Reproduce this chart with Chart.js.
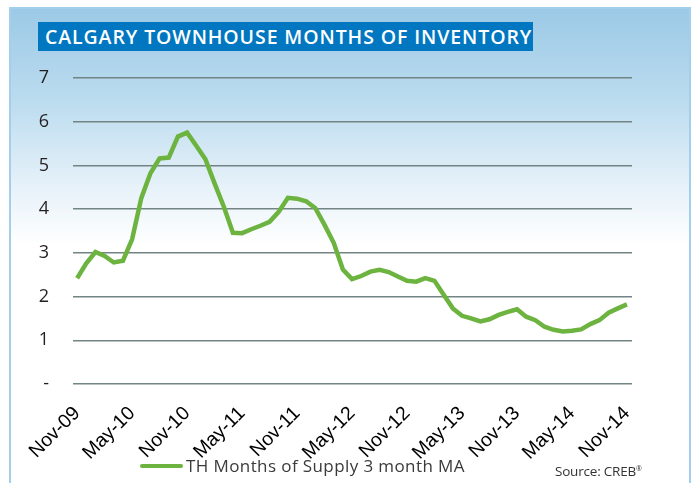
<!DOCTYPE html>
<html>
<head>
<meta charset="utf-8">
<script src="https://cdn.jsdelivr.net/npm/chart.js@4/dist/chart.umd.min.js"></script>
<style>
  html, body { margin: 0; padding: 0; background: #fff; }
  .wrap { position: relative; width: 693px; height: 483px; overflow: hidden; }
  canvas { position: absolute; left: 0; top: 0; }
  .title {
    position: absolute; left: 38px; top: 22px; width: 495px; height: 29px;
    background: #0077c0; color: #fff;
    font: 600 19.5px "Open Sans", sans-serif; letter-spacing: 0.9px;
    line-height: 29px; padding-left: 7px; box-sizing: border-box; white-space: nowrap;
  }
  .legend {
    position: absolute; left: 140px; top: 454px; height: 22px;
    font: 17px "Open Sans", sans-serif; color: #3a3a3a; white-space: nowrap; letter-spacing: 0.4px;
  }
  .legend i {
    display: inline-block; width: 43px; height: 4px; border-radius: 2px;
    background: #6cb33f; vertical-align: middle; margin-right: 3px; position: relative; top: -1px;
  }
  .source {
    position: absolute; left: 555px; top: 462px;
    font: 13.5px "Open Sans", sans-serif; color: #333; white-space: nowrap; letter-spacing: -0.2px;
  }
  .source sup { font-size: 7px; }
</style>
</head>
<body>
<div class="wrap">
  <canvas id="chart" width="693" height="483"></canvas>
  <div class="title">CALGARY TOWNHOUSE MONTHS OF INVENTORY</div>
  <div class="legend"><i></i>TH Months of Supply 3 month MA</div>
  <div class="source">Source: CREB<sup>®</sup></div>
</div>
<script>
// every 6th month is labelled on the x axis
const tickLabels = ['Nov-09', 'May-10', 'Nov-10', 'May-11', 'Nov-11', 'May-12',
                    'Nov-12', 'May-13', 'Nov-13', 'May-14', 'Nov-14'];
const yTicks = [0, 1, 2, 3, 4, 5, 6, 7];

// monthly values, Nov-09 .. Nov-14
const supplyMA = [
  2.42, 2.76, 3.02, 2.93, 2.78, 2.82, 3.31, 4.25, 4.82, 5.16, 5.18, 5.66,
  5.75, 5.45, 5.14, 4.59, 4.06, 3.46, 3.45, 3.54, 3.62, 3.71, 3.94, 4.26,
  4.24, 4.18, 4.02, 3.64, 3.23, 2.62, 2.40, 2.47, 2.57, 2.61, 2.56, 2.46,
  2.36, 2.34, 2.42, 2.36, 2.04, 1.73, 1.56, 1.50, 1.43, 1.48, 1.58, 1.65,
  1.71, 1.54, 1.46, 1.31, 1.24, 1.20, 1.22, 1.25, 1.37, 1.46, 1.63, 1.73,
  1.82
];

const points = supplyMA.map((v, i) => ({ x: i, y: v }));

// light blue panel fading to white behind the chart
const panel = {
  id: 'panel',
  beforeDraw(chart) {
    const ctx = chart.ctx;
    ctx.save();
    const g = ctx.createLinearGradient(0, 7, 0, 245);
    g.addColorStop(0, '#9bc9e6');
    g.addColorStop(0.4, '#bcdcef');
    g.addColorStop(0.75, '#e6f1f9');
    g.addColorStop(1, '#ffffff');
    ctx.fillStyle = g;
    ctx.fillRect(9, 7, 682, 480);
    ctx.strokeStyle = '#a3cfec';
    ctx.lineWidth = 2;
    ctx.beginPath();
    ctx.moveTo(10, 490); ctx.lineTo(10, 8); ctx.lineTo(690, 8); ctx.lineTo(690, 490);
    ctx.stroke();
    ctx.restore();
  }
};

new Chart(document.getElementById('chart'), {
  type: 'line',
  data: {
    datasets: [{
      label: 'TH Months of Supply 3 month MA',
      data: points,
      borderColor: '#6cb33f',
      borderWidth: 4.5,
      pointRadius: 0,
      tension: 0,
      fill: false
    }]
  },
  options: {
    responsive: false,
    animation: false,
    layout: { padding: { left: 0, right: 61, top: 78, bottom: 0 } },
    plugins: { legend: { display: false }, tooltip: { enabled: false } },
    scales: {
      x: {
        type: 'linear',
        min: -0.45,
        max: 60.55,
        afterBuildTicks: (s) => { s.ticks = tickLabels.map((t, i) => ({ value: i * 6 })); },
        afterFit: (s) => { s.height = 99; },
        grid: { display: false },
        border: { display: false },
        ticks: {
          autoSkip: false,
          minRotation: 45,
          maxRotation: 45,
          padding: 10,
          color: '#000',
          font: { family: 'Liberation Sans', size: 19.5 },
          callback: (v) => tickLabels[v / 6]
        }
      },
      y: {
        min: 0,
        max: 7,
        afterBuildTicks: (s) => { s.ticks = yTicks.map(v => ({ value: v })); },
        afterFit: (s) => { s.width = 73; },
        border: { display: false },
        grid: { color: '#738484', lineWidth: 1.4, drawTicks: false },
        ticks: {
          padding: 24,
          color: '#231f20',
          font: { family: 'Open Sans', size: 18 },
          callback: (v) => v === 0 ? '-' : v
        }
      }
    }
  },
  plugins: [panel]
});
</script>
</body>
</html>
